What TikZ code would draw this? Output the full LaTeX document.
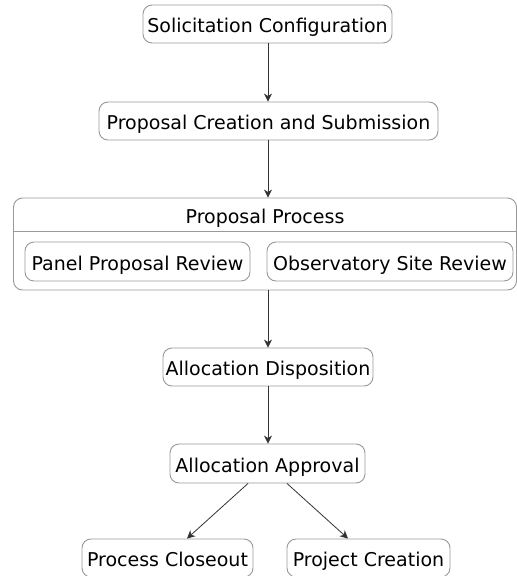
\documentclass[tikz,border=0pt]{standalone}
\usepackage{fontspec}
\setmainfont{DejaVu Sans}
\usetikzlibrary{arrows.meta}
\begin{document}
\begin{tikzpicture}[x=1pt,y=-1pt,
  every node/.style={font=\fontsize{19}{21}\selectfont, inner sep=0pt, text height=17pt, text depth=0pt},
  stepbox/.style={draw=black!40, line width=0.9pt, rounded corners=9pt, fill=white, minimum height=38pt},
  flow/.style={draw=black!80, line width=0.8pt, -{Stealth[length=8pt,width=8pt,inset=2.5pt]}}]
  \useasboundingbox (0,0) rectangle (517,576);

  % main column of steps
  \node[stepbox, minimum width=249pt] (sol) at (267.5,24) {Solicitation Configuration};
  \node[stepbox, minimum width=339pt] (pcs) at (268.5,121) {Proposal Creation and Submission};

  % proposal process group
  \node[draw=black!40, line width=0.9pt, rounded corners=9pt, minimum width=503pt, minimum height=92pt, text height=0pt] (grp) at (265,244) {};
  \node (grptitle) at (265,215) {Proposal Process};
  \draw[black!40, line width=0.9pt] (grp.west |- 0,231) -- (grp.east |- 0,231);
  \node[stepbox, minimum width=225pt, minimum height=39pt] (ppr) at (137.5,261.5) {Panel Proposal Review};
  \node[stepbox, minimum width=246pt, minimum height=39pt] (osr) at (390,261.5) {Observatory Site Review};

  \node[stepbox, minimum width=210pt] (ad) at (268,367) {Allocation Disposition};
  \node[stepbox, minimum width=195pt, minimum height=39pt] (aa) at (267.5,463.5) {Allocation Approval};
  \node[stepbox, minimum width=171pt] (pc) at (167.5,558) {Process Closeout};
  \node[stepbox, minimum width=163pt] (pjc) at (368.5,558) {Project Creation};

  % connectors
  \draw[flow] (sol.south -| 268,0) -- (pcs.north -| 268,0);
  \draw[flow] (pcs.south -| 268,0) -- (grp.north -| 268,0);
  \draw[flow] (grp.south -| 268,0) -- (ad.north -| 268,0);
  \draw[flow] (ad.south -| 268,0) -- (aa.north -| 268,0);
  \draw[flow] (aa.south -| 248,0) -- (pc.north -| 187,0);
  \draw[flow] (aa.south -| 287,0) -- (pjc.north -| 348,0);
\end{tikzpicture}
\end{document}
